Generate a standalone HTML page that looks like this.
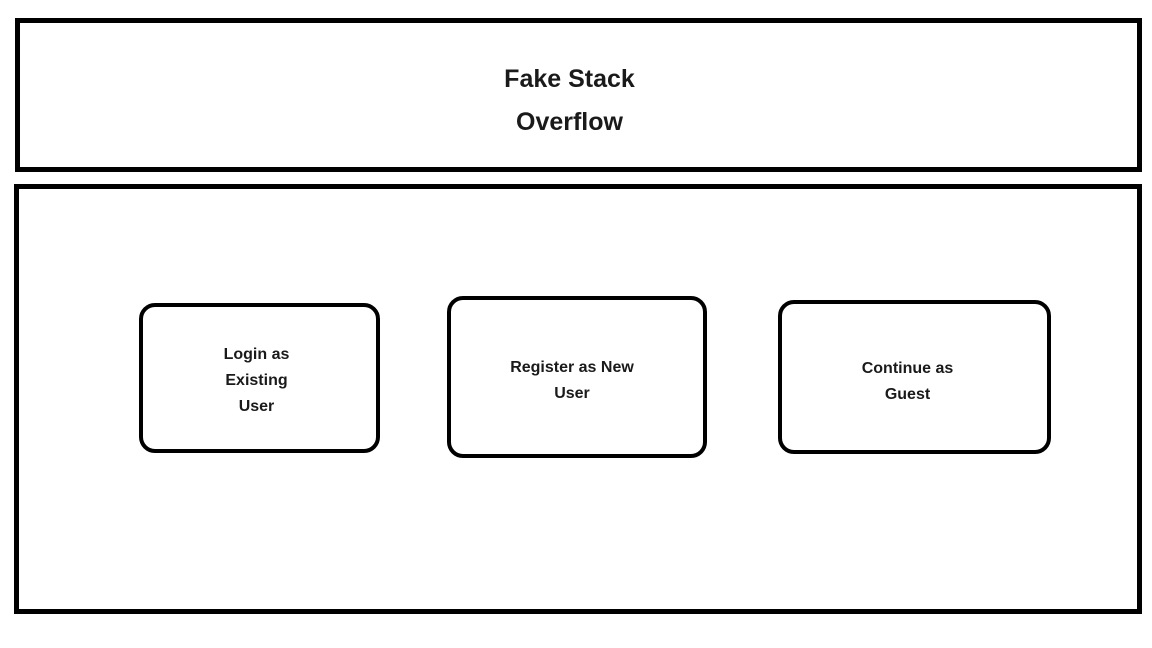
<!DOCTYPE html>
<html><head><style>
body{margin:0;width:1152px;height:648px;background:#fff;position:relative;overflow:hidden;font-family:"Liberation Sans",sans-serif;font-weight:bold;color:#1a1a1a}
.b{position:absolute;box-sizing:border-box;border:5px solid #000;display:flex;align-items:center;justify-content:center;text-align:center}
.r{border-width:4px;border-radius:16px;font-size:16px;line-height:26px}
</style></head><body>
<div class="b" style="left:15px;top:18px;width:1127px;height:154px;font-size:25px;line-height:43px"><div style="margin-top:12px;margin-right:18px">Fake Stack<br>Overflow</div></div>
<div class="b" style="left:14px;top:184px;width:1128px;height:430px"></div>
<div class="b r" style="left:139px;top:303px;width:241px;height:150px"><div style="margin-top:6px;margin-right:6px">Login as<br>Existing<br>User</div></div>
<div class="b r" style="left:447px;top:296px;width:260px;height:162px"><div style="margin-top:8px;margin-right:10px">Register as New<br>User</div></div>
<div class="b r" style="left:778px;top:300px;width:273px;height:154px"><div style="margin-top:10px;margin-right:14px">Continue as<br>Guest</div></div>
</body></html>
